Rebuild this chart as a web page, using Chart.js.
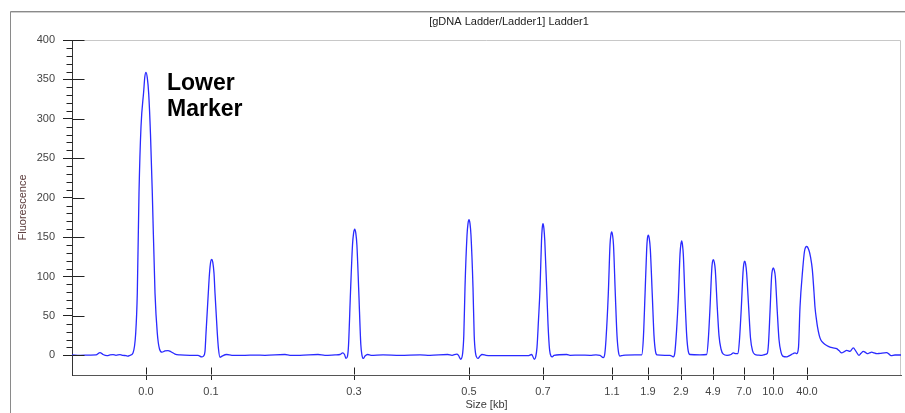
<!DOCTYPE html>
<html>
<head>
<meta charset="utf-8">
<title>gDNA Ladder</title>
<script src="https://cdn.jsdelivr.net/npm/chart.js@4.4.1/dist/chart.umd.min.js"></script>
<style>
  html, body { margin: 0; padding: 0; background: #fff; }
  #wrap { width: 905px; height: 413px; }
</style>
</head>
<body>
<div id="wrap"><canvas id="ladderChart" width="905" height="413"></canvas></div>
<script>
// migration position along the run (arbitrary units)
const migration = [
    0, 8, 18, 24, 28, 31, 35, 38, 41, 44, 48, 51, 54, 56, 58,
    61, 63.7, 65.3, 67, 69, 71.7, 72.8, 74, 75.3, 76.7, 78.5, 80.3, 83, 85.3, 87.5, 90, 93, 96, 99, 103, 108, 118,
    126, 129.7, 131.5, 133, 134, 136.3, 137.5, 138.6, 139.7, 140.8, 142, 143, 145.3, 146.5, 148, 150, 154.7,
    160, 173, 183, 193, 213, 218, 228, 246, 253, 263, 268, 270.7, 272.5, 274,
    275.5, 276.5, 278.5, 280.5, 281.6, 282.7, 283.8, 284.9, 286.8, 288.8, 290, 291.3, 293, 295.7, 299,
    311, 328, 348, 358, 375.7, 380, 384.7, 386.5, 388.7,
    390.7, 391.8, 393, 395, 396, 397, 398, 399, 401, 402.2, 403.5, 404.5, 406, 408, 410, 414,
    418, 438, 456, 459.7, 462.3,
    463.7, 465, 466.5, 468, 469.5, 470.2, 471, 471.9, 472.8, 474.7, 476, 477.5, 479, 480.3, 482,
    494.7, 498, 508, 518, 524, 528, 531.3,
    532.8, 534, 536.3, 538, 538.8, 539.7, 540.6, 541.5, 543.3, 545, 546.5, 548, 551, 563, 569.7,
    571.3, 573, 574.7, 575.4, 576.3, 577.3, 578.3, 580.3, 582, 583.5, 585, 593, 598, 601.3,
    602.8, 604.5, 606.3, 608, 608.8, 609.7, 610.5, 611.3, 613, 614.7, 616.3, 618, 628, 634.7,
    636.3, 638, 639.7, 640.4, 641.3, 642.3, 643.3, 645.3, 647, 649, 651.3, 655, 659, 661.3, 664, 666,
    667.5, 669.3, 671, 671.8, 672.7, 673.6, 674.6, 676.7, 678.5, 680.5, 683, 686, 690, 693, 695.3,
    696.5, 698, 699.6, 700.4, 701.3, 702.3, 703.3, 705.3, 707, 709, 710.7, 714.7, 718, 721, 723,
    724.7, 726.5, 728, 730.7, 732.5, 734.7, 737, 738.5, 740.3, 742, 743, 744.5, 745.5, 747.3,
    749, 751.3, 754.7, 758, 761, 764.7, 767, 769.7, 772, 774.7, 778, 781.3, 784, 787,
    789, 791.3, 793, 795.3, 797.5, 799.7, 802, 804.7, 808, 814.7, 817, 819, 823, 829
];
const fluorescence = [
    0.5, 0, 0.3, 0.5, 3.5, 1, -0.5, 0.5, 0.8, 0, 0.8, 0, -0.5, -1, 0,
    3, 28, 79, 206, 290, 335, 353, 359, 352, 332, 280, 206, 79, 28, 8, 4, 5.5, 6, 4.5, 1.5, 0.5, 0,
    0, -2, -1, 5, 28, 79, 104, 118, 121.5, 118, 104, 79, 28, 8, -2.5, -1, 1,
    0, 0, 0.3, 0, 1, 0, 0, 1, 0, 0.5, 1, 3, 1, -4,
    -1, 12, 80, 140, 155, 160, 155, 140, 80, 14, 0, -4, -1, 1, 0,
    0.5, 0, 0.5, 0, 1, 0, 1.5, 0, -5,
    3, 25, 86, 152, 167, 172, 167, 152, 86, 25, 3, -2, -4, -1, 1, 0,
    -0.5, -0.5, -0.5, 1, -5,
    -2, 10, 45, 84, 145, 161, 167, 161, 145, 84, 40, 8, -1, -2, 0,
    1, 0, 0.3, 0, 0.5, 0, -3,
    2, 20, 78, 140, 152, 156.6, 152, 140, 78, 25, 4, -1, 0, 0.5, 0.5,
    20, 76, 135, 148, 152.4, 148, 135, 76, 25, 5, 0.5, 0, 0, -2,
    3, 30, 72, 128, 140, 145, 140, 128, 72, 25, 5, 1, 0.5, 1,
    20, 60, 108, 118, 121.4, 118, 108, 60, 25, 8, 1.5, 0, 1, 3, 2, 2,
    20, 60, 105, 116, 119.4, 116, 105, 60, 22, 6, 1, 0.3, 0, 1, 2.5,
    15, 55, 100, 108, 111, 108, 100, 55, 20, 4, -1, -2, 0, 2, 3,
    2, 10, 61, 109, 132, 138, 133, 125, 109, 80, 61, 45, 36, 25,
    19, 15.6, 12.5, 10.5, 9.5, 8.4, 6, 3, 4.5, 6.3, 5, 9.3, 5, 0,
    2.5, 5, 4, 2, 3, 4, 3, 2, 2.5, 3.4, 1.5, -0.5, 0.4, 0.4
];

// size ladder (kb) and where each band sits on the migration axis
const sizeTickPos = [74, 139, 282, 397, 471, 540, 576, 609, 641, 672, 701, 735];
const sizeTickLabels = ['0.0', '0.1', '0.3', '0.5', '0.7', '1.1', '1.9', '2.9', '4.9', '7.0', '10.0', '40.0'];

const yMajorTicks = [0, 50, 100, 150, 200, 250, 300, 350, 400];
const yMinorStep = 10;

const chartTitle = '[gDNA Ladder/Ladder1] Ladder1';
const markerLabel = ['Lower', 'Marker'];

const FONT = '"Liberation Sans", Arial, sans-serif';

const traceData = migration.map((m, i) => ({ x: m, y: fluorescence[i] }));

const panelPlugin = {
    id: 'panel',
    beforeDraw(chart) {
        const ctx = chart.ctx;
        const { left, top, right, bottom } = chart.chartArea;
        ctx.save();
        // outer window frame
        ctx.lineWidth = 1;
        ctx.strokeStyle = '#8a8a8a';
        ctx.beginPath();
        ctx.moveTo(10.5, 413);
        ctx.lineTo(10.5, 11.5);
        ctx.lineTo(905, 11.5);
        ctx.stroke();
        ctx.strokeStyle = '#cfcfcf';
        ctx.beginPath();
        ctx.moveTo(11, 12.5);
        ctx.lineTo(905, 12.5);
        ctx.stroke();

        ctx.fillStyle = '#222';
        ctx.font = '11px ' + FONT;
        ctx.textAlign = 'center';
        ctx.textBaseline = 'middle';
        ctx.fillText(chartTitle, 509, 22);

        // light border top / right of the plot
        ctx.strokeStyle = '#c8c8c8';
        ctx.beginPath();
        ctx.moveTo(left, top + 0.5);
        ctx.lineTo(right - 0.5, top + 0.5);
        ctx.lineTo(right - 0.5, bottom);
        ctx.stroke();
        ctx.restore();
    },
    afterDraw(chart) {
        const ctx = chart.ctx;
        const xs = chart.scales.x;
        const ys = chart.scales.y;
        const axisX = Math.round(xs.left) + 0.5;
        const axisY = Math.round(ys.bottom) - 0.5;
        ctx.save();
        ctx.strokeStyle = '#222';
        ctx.lineWidth = 1;
        ctx.beginPath();
        // major y ticks poke into the plot, minor ticks sit outside
        for (let v = 0; v <= 400; v += yMinorStep) {
            const py = Math.round(ys.getPixelForValue(v)) + 0.5;
            if (v % 50 === 0) {
                ctx.moveTo(axisX, py);
                ctx.lineTo(axisX + 12, py);
            } else {
                ctx.moveTo(axisX - 6, py);
                ctx.lineTo(axisX, py);
            }
        }
        // x ticks poke up into the plot
        sizeTickPos.forEach(p => {
            const px = Math.round(xs.getPixelForValue(p)) + 0.5;
            ctx.moveTo(px, axisY);
            ctx.lineTo(px, axisY - 7);
        });
        ctx.stroke();

        // peak annotation
        ctx.fillStyle = '#000';
        ctx.font = 'bold 23px ' + FONT;
        ctx.textAlign = 'left';
        ctx.textBaseline = 'alphabetic';
        const lx = xs.getPixelForValue(sizeTickPos[0]) + 21;
        ctx.fillText(markerLabel[0], lx, 90);
        ctx.fillText(markerLabel[1], lx, 116);
        ctx.restore();
    }
};

new Chart(document.getElementById('ladderChart'), {
    type: 'line',
    data: {
        datasets: [{
            label: 'Ladder1',
            data: traceData,
            borderColor: '#2a2aff',
            borderWidth: 1.3,
            pointRadius: 0,
            fill: false,
            cubicInterpolationMode: 'monotone'
        }]
    },
    options: {
        responsive: false,
        animation: false,
        layout: { padding: { top: 40, right: 4, left: 0, bottom: 0 } },
        plugins: {
            legend: { display: false },
            tooltip: { enabled: false }
        },
        scales: {
            x: {
                type: 'linear',
                min: 0,
                max: 829,
                afterBuildTicks: scale => { scale.ticks = sizeTickPos.map(v => ({ value: v })); },
                afterFit: scale => { scale.height = 38; },
                ticks: {
                    autoSkip: false,
                    maxRotation: 0,
                    minRotation: 0,
                    padding: 5,
                    color: '#444',
                    font: { family: FONT, size: 11 },
                    callback: (value, index) => sizeTickLabels[index]
                },
                grid: { display: true, drawOnChartArea: false, drawTicks: true, tickLength: 5, color: '#222' },
                border: { display: true, color: '#555', width: 1 },
                title: {
                    display: true,
                    text: 'Size [kb]',
                    color: '#3a3a3a',
                    font: { family: FONT, size: 11 },
                    padding: { top: 0, bottom: 1 }
                }
            },
            y: {
                type: 'linear',
                min: -25,
                max: 400,
                afterBuildTicks: scale => { scale.ticks = yMajorTicks.map(v => ({ value: v })); },
                afterFit: scale => { scale.width = 72; },
                ticks: {
                    padding: 8,
                    color: '#444',
                    font: { family: FONT, size: 11 }
                },
                grid: { display: true, drawOnChartArea: false, drawTicks: true, tickLength: 9, color: '#222' },
                border: { display: true, color: '#333', width: 1 },
                title: {
                    display: true,
                    text: 'Fluorescence',
                    color: '#5a3a3a',
                    font: { family: FONT, size: 11 },
                    padding: { top: 16, bottom: 0 }
                }
            }
        }
    },
    plugins: [panelPlugin]
});
</script>
</body>
</html>
